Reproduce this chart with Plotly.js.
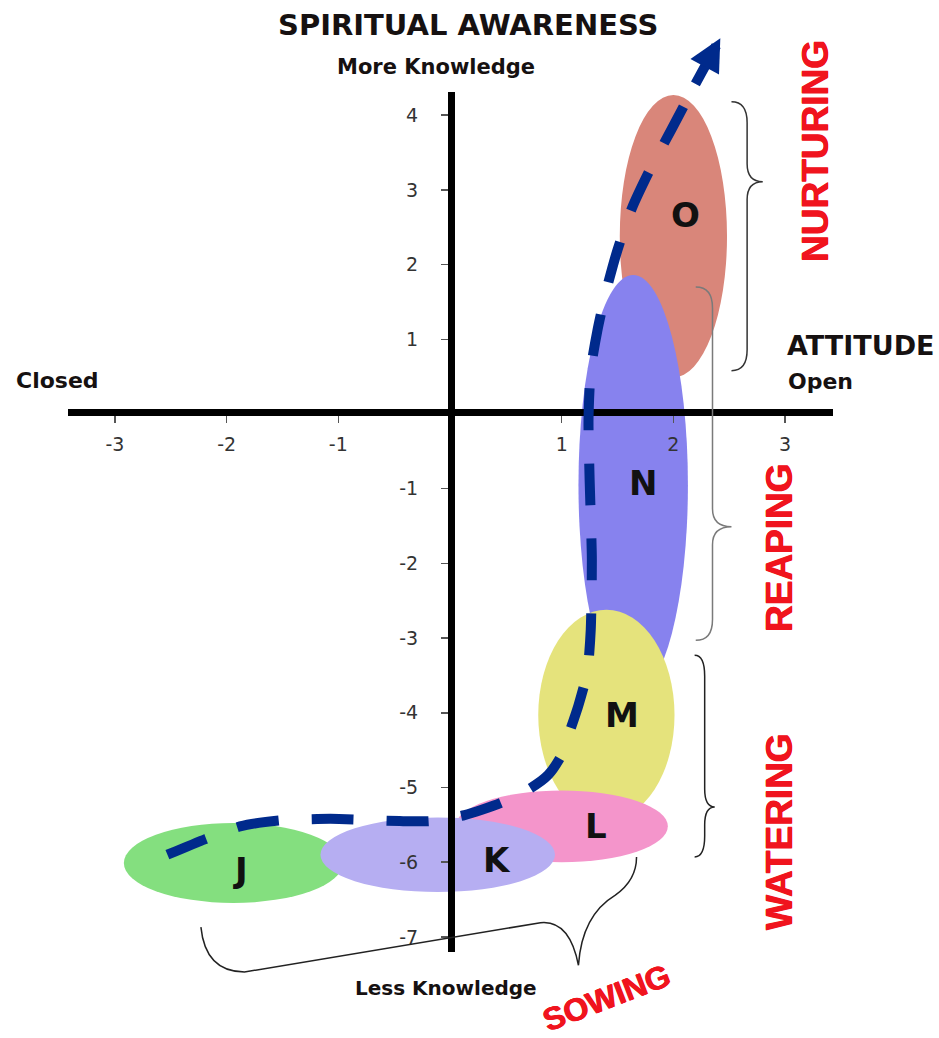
<!DOCTYPE html>
<html><head><meta charset="utf-8">
<script src="https://cdn.plot.ly/plotly-3.0.1.min.js"></script>
<style>html,body{margin:0;padding:0;background:#fff;overflow:hidden}#chart{width:939px;height:1038px}</style>
</head><body><div id="chart"></div>
<script>
// ---------------- data ----------------
const xTickValues = [-3, -2, -1, 1, 2, 3];
const xTickLabels = ['-3', '-2', '-1', '1', '2', '3'];
const yTickValues = [4, 3, 2, 1, -1, -2, -3, -4, -5, -6, -7];
const yTickLabels = ['4', '3', '2', '1', '-1', '-2', '-3', '-4', '-5', '-6', '-7'];

// stage ovals (drawing order)
const ovalLabels  = ['O', 'N', 'M', 'L', 'J', 'K'];
const ovalCenterX = [2.00, 1.64, 1.40, 1.00, -1.94, -0.11];
const ovalCenterY = [2.38, -0.95, -4.03, -5.52, -6.01, -5.90];
const ovalRadiusX = [0.48, 0.49, 0.61, 0.95, 0.98, 1.05];
const ovalRadiusY = [1.89, 2.81, 1.41, 0.48, 0.535, 0.50];
const ovalLabelX  = [2.11, 1.73, 1.54, 1.31, -1.88, 0.42];
const ovalLabelY  = [2.66, -0.92, -4.03, -5.52, -6.10, -5.97];

// journey path (dashed arrow)
const pathX = [-2.53, -2.19, -1.88, -1.52, -1.07, -0.45, -0.18, 0.13, 0.45, 0.72, 0.88, 0.99, 1.06, 1.15, 1.23, 1.26, 1.27, 1.25, 1.24, 1.26, 1.32, 1.40, 1.50, 1.63, 1.79, 1.99, 2.19];
const pathY = [-5.90, -5.69, -5.52, -5.44, -5.42, -5.45, -5.45, -5.37, -5.21, -5.01, -4.83, -4.59, -4.30, -3.90, -3.45, -2.89, -1.95, -0.88, -0.08, 0.59, 1.12, 1.66, 2.20, 2.76, 3.27, 3.83, 4.40];
const pathTipX = 2.42;
const pathTipY = 5.03;

// stage brackets
const stageNames   = ['NURTURING', 'REAPING', 'WATERING'];
const braceTop     = [4.18, 1.70, -3.23];
const braceTip     = [3.11, -1.51, -5.26];
const braceBottom  = [0.58, -3.03, -5.93];
const braceSpineX  = [2.66, 2.35, 2.28];
const braceEndX    = [2.52, 2.20, 2.19];
const braceTipX    = [2.80, 2.52, 2.37];
// sowing bracket anchor points
const sowX = [-2.23, -2.19, -1.84, 0.81, 1.07, 1.15, 1.18, 1.48, 1.67, 1.67, 1.67];
const sowY = [-6.87, -7.47, -7.47, -6.81, -6.77, -7.38, -6.71, -6.44, -6.24, -6.24, -5.93];

// ---------------- styles / geometry ----------------
const W = 939, H = 1038;
const X0 = 450, XS = 111.7, Y0 = 414, YS = 74.7;
const pxX = p => (p - X0) / XS;
const pxY = p => (Y0 - p) / YS;
const ovalColors = ['#d9867a', '#8782ee', '#e5e37c', '#f495cb', '#84df7f', '#b6aef2'];
const braceColors = ['#333333', '#7a7a7a', '#222222'];
const RED = '#f0141e';
const INK = '#161111';

const shapes = [];
ovalLabels.forEach((_, i) => {
  shapes.push({type: 'circle', xref: 'x', yref: 'y', layer: 'below',
    x0: ovalCenterX[i] - ovalRadiusX[i], x1: ovalCenterX[i] + ovalRadiusX[i],
    y0: ovalCenterY[i] - ovalRadiusY[i], y1: ovalCenterY[i] + ovalRadiusY[i],
    fillcolor: ovalColors[i], line: {width: 0}});
});
const hh = 0.28, kk = 0.24;
stageNames.forEach((_, i) => {
  const s = braceSpineX[i], e = braceEndX[i], t = braceTipX[i];
  const a = braceTop[i], m = braceTip[i], b = braceBottom[i];
  const d = `M${e},${a} Q${s},${a} ${s},${a - hh} L${s},${m + kk} Q${s},${m} ${t},${m} ` +
            `Q${s},${m} ${s},${m - kk} L${s},${b + hh} Q${s},${b} ${e},${b}`;
  shapes.push({type: 'path', xref: 'x2', yref: 'y2', layer: 'below', path: d,
    fillcolor: 'rgba(0,0,0,0)', line: {color: braceColors[i], width: 1.5}});
});
{
  const p = sowX.map((x, i) => x + ',' + sowY[i]);
  const d = `M${p[0]} Q${p[1]} ${p[2]} L${p[3]} Q${p[4]} ${p[5]} Q${p[6]} ${p[7]} Q${p[8]} ${p[10]}`;
  shapes.push({type: 'path', xref: 'x2', yref: 'y2', layer: 'below', path: d,
    fillcolor: 'rgba(0,0,0,0)', line: {color: '#222222', width: 1.5}});
}

const P = (px, py) => ({x: px / W, y: 1 - py / H, xref: 'paper', yref: 'paper'});
const txt = (text, px, py, size, color, extra) => Object.assign(P(px, py), {
  text: text, showarrow: false, xanchor: 'center', yanchor: 'middle',
  font: {family: 'DejaVu Sans', size: size, color: color}}, extra || {});
const redFont = s => ({family: 'Liberation Sans', size: s, color: RED, shadow: '0.5px 0 0 ' + RED + ', -0.5px 0 0 ' + RED});

const annotations = [
  txt('<b>SPIRITUAL AWARENESS</b>', 468, 25, 29, INK),
  txt('<b>More Knowledge</b>', 436, 67, 21, INK),
  txt('<b>Less Knowledge</b>', 446, 988, 20, INK),
  txt('<b>Closed</b>', 14, 380, 22, INK, {xanchor: 'left'}),
  txt('<b>ATTITUDE</b>', 785, 345, 27, INK, {xanchor: 'left'}),
  txt('<b>Open</b>', 786, 381, 22, INK, {xanchor: 'left'}),
  txt('<b>NURTURING</b>', 815, 151, 37, RED, {textangle: -90, font: redFont(37)}),
  txt('<b>REAPING</b>', 779, 548, 37, RED, {textangle: -90, font: redFont(37)}),
  txt('<b>WATERING</b>', 779, 832, 37, RED, {textangle: -90, font: redFont(37)}),
  txt('<b>SOWING</b>', 606, 998, 32, RED, {textangle: -21, font: redFont(32)}),
];
ovalLabels.forEach((lab, i) => {
  annotations.push({xref: 'x', yref: 'y', x: ovalLabelX[i], y: ovalLabelY[i], text: '<b>' + lab + '</b>',
    showarrow: false, font: {family: 'DejaVu Sans', size: 34, color: '#111'}});
});
annotations.push({xref: 'x2', yref: 'y2', axref: 'x2', ayref: 'y2',
  x: pathTipX, y: pathTipY, ax: pathX[pathX.length - 1], ay: pathY[pathY.length - 1],
  text: '', showarrow: true, arrowhead: 2, arrowsize: 0.65, arrowwidth: 10, arrowcolor: '#002a8c', standoff: 0});

const traces = [
  {type: 'scatter', x: [], y: [], xaxis: 'x', yaxis: 'y', hoverinfo: 'skip', showlegend: false},
  {type: 'scatter', mode: 'lines', x: pathX, y: pathY, xaxis: 'x2', yaxis: 'y2', hoverinfo: 'skip', showlegend: false,
    line: {color: '#002a8c', width: 10, dash: '42px,33px', shape: 'spline', smoothing: 0.6}}
];

const axisLeft = 68, axisRight = 833, axisTop = 92, axisBottom = 952;
const tickFont = {family: 'DejaVu Sans', size: 19, color: '#333'};
const layout = {
  width: W, height: H, margin: {l: 0, r: 0, t: 0, b: 0, pad: 0},
  paper_bgcolor: '#ffffff', plot_bgcolor: 'rgba(0,0,0,0)', showlegend: false,
  xaxis: {domain: [axisLeft / W, axisRight / W], range: [pxX(axisLeft), pxX(axisRight)],
    anchor: 'free', position: 1 - 412 / H, showline: true, linewidth: 7, linecolor: '#000',
    ticks: 'outside', ticklen: 7, tickwidth: 1.5, tickcolor: '#555', ticklabelstandoff: 5,
    tickvals: xTickValues, ticktext: xTickLabels, showgrid: false, zeroline: false,
    tickfont: tickFont, fixedrange: true},
  yaxis: {domain: [1 - axisBottom / H, 1 - axisTop / H], range: [pxY(axisBottom), pxY(axisTop)],
    anchor: 'free', position: 451 / W, showline: true, linewidth: 7, linecolor: '#000',
    ticks: 'outside', ticklen: 7, tickwidth: 1.5, tickcolor: '#555', ticklabelstandoff: 19,
    tickvals: yTickValues, ticktext: yTickLabels, showgrid: false, zeroline: false,
    tickfont: tickFont, fixedrange: true},
  xaxis2: {domain: [0, 1], range: [pxX(0), pxX(W)], anchor: 'y2', visible: false, fixedrange: true},
  yaxis2: {domain: [0, 1], range: [pxY(H), pxY(0)], anchor: 'x2', visible: false, fixedrange: true},
  shapes: shapes, annotations: annotations
};
Plotly.newPlot('chart', traces, layout, {staticPlot: true, displayModeBar: false});
</script></body></html>
